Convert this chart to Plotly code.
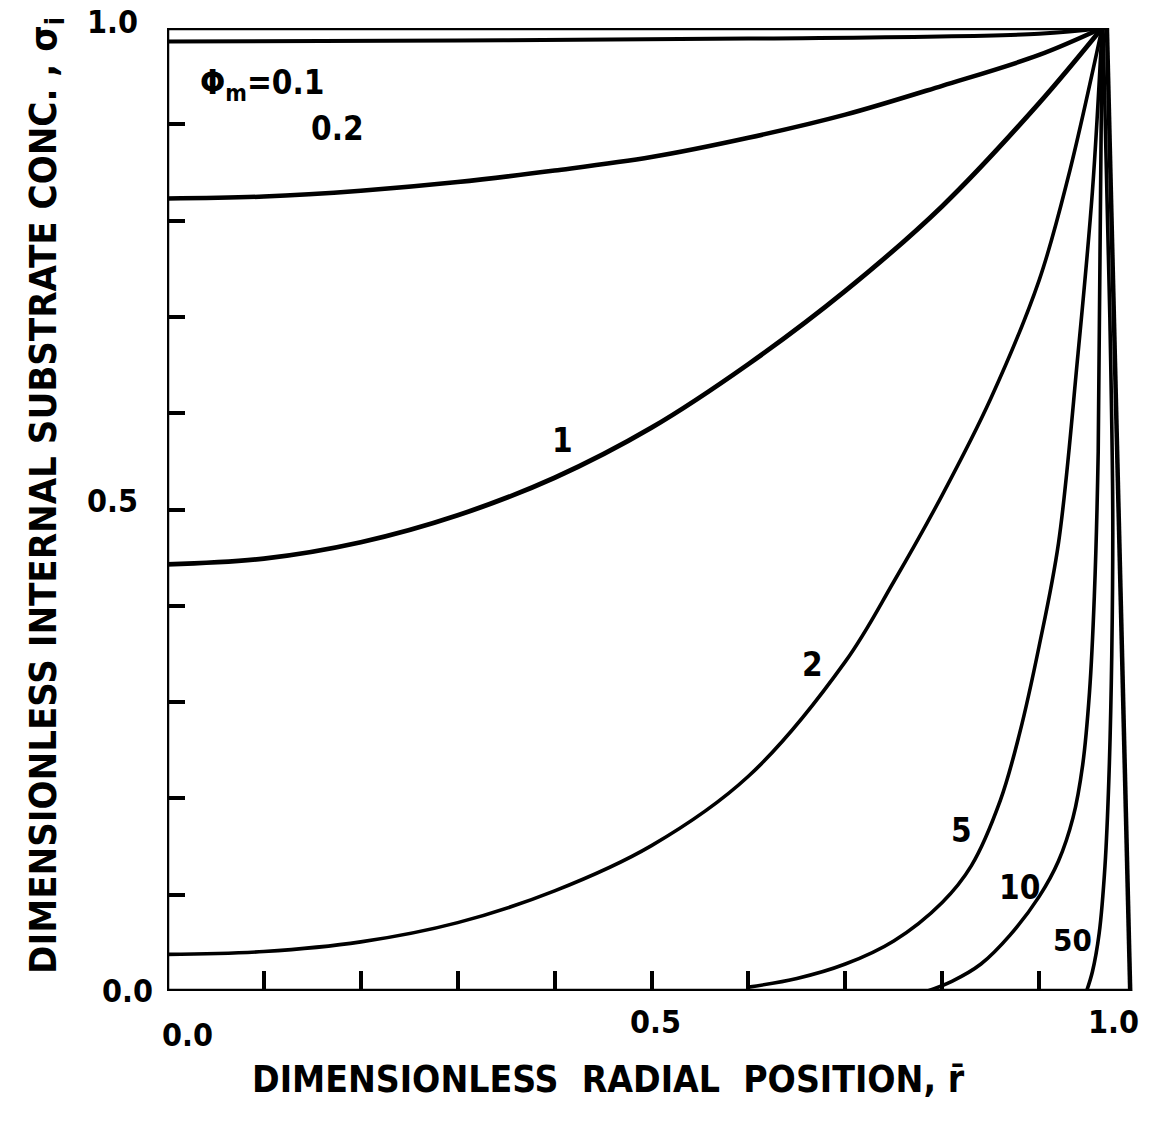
import plotly.graph_objects as go

# ---- data ----
phi_labels = ["0.1", "0.2", "1", "2", "5", "10", "50"]

r_01 = [0.0, 0.3, 0.6, 0.9, 0.965]
s_01 = [0.986, 0.987, 0.989, 0.994, 1.0]

r_02 = [0.0, 0.1, 0.2, 0.3, 0.4, 0.5, 0.6, 0.7, 0.8, 0.9, 0.965]
s_02 = [0.823, 0.825, 0.831, 0.840, 0.852, 0.866, 0.886, 0.910, 0.940, 0.972, 1.0]

r_1 = [0.0, 0.1, 0.2, 0.3, 0.4, 0.5, 0.6, 0.7, 0.8, 0.9, 0.965]
s_1 = [0.443, 0.449, 0.466, 0.494, 0.533, 0.585, 0.651, 0.727, 0.815, 0.922, 1.0]

r_2 = [0.0, 0.1, 0.2, 0.3, 0.4, 0.5, 0.6, 0.7, 0.75, 0.8, 0.85, 0.9, 0.93, 0.965]
s_2 = [0.038, 0.041, 0.051, 0.071, 0.104, 0.151, 0.223, 0.342, 0.425, 0.515, 0.615, 0.738, 0.845, 1.0]

r_5 = [0.6, 0.65, 0.70, 0.75, 0.80, 0.83, 0.86, 0.88, 0.90, 0.92, 0.94, 0.955, 0.965]
s_5 = [0.004, 0.013, 0.028, 0.052, 0.092, 0.130, 0.198, 0.268, 0.358, 0.465, 0.66, 0.83, 1.0]

r_10 = [0.785, 0.81, 0.84, 0.87, 0.90, 0.92, 0.935, 0.945, 0.952, 0.957, 0.961, 0.965]
s_10 = [0.0, 0.010, 0.028, 0.058, 0.098, 0.135, 0.18, 0.235, 0.31, 0.41, 0.56, 1.0]

r_50 = [0.949, 0.955, 0.962, 0.968, 0.972, 0.975, 0.976, 0.973, 0.969, 0.966]
s_50 = [0.0, 0.02, 0.06, 0.13, 0.22, 0.35, 0.5, 0.70, 0.87, 1.0]

minor_ticks = [0.1, 0.2, 0.3, 0.4, 0.5, 0.6, 0.7, 0.8, 0.9]
x_tick_vals = [0.0, 0.5, 1.0]
x_tick_text = ["0.0", "0.5", "1.0"]
y_tick_vals = [1.0, 0.5, 0.0]
y_tick_text = ["1.0", "0.5", "0.0"]

x_title = "DIMENSIONLESS  RADIAL  POSITION, r\u0304"
y_title = "DIMENSIONLESS INTERNAL SUBSTRATE CONC. , \u03c3<sub>i</sub>"

# ---- styling ----
FONT = "DejaVu Sans Condensed, Liberation Sans Narrow, DejaVu Sans, sans-serif"
BLACK = "#000000"

curves = [
    (r_01, s_01, 4.0),
    (r_02, s_02, 4.5),
    (r_1, s_1, 4.8),
    (r_2, s_2, 3.6),
    (r_5, s_5, 3.6),
    (r_10, s_10, 3.6),
    (r_50, s_50, 3.6),
]

fig = go.Figure()
for (rr, ss, w), lab in zip(curves, phi_labels):
    fig.add_trace(go.Scatter(
        x=rr, y=ss, mode="lines", name=lab,
        line=dict(color=BLACK, width=w, shape="spline", smoothing=1.0),
        hoverinfo="skip", showlegend=False,
    ))

# frame (hand-drawn style, slanted right edge)
frame = [((0.0, 0.0), (0.0, 1.0)),
         ((0.0, 0.0), (0.994, 0.0)),
         ((0.0, 1.0), (0.970, 1.0)),
         ((0.970, 1.0), (0.994, 0.0))]
for (x0, y0), (x1, y1) in frame:
    fig.add_shape(type="line", xref="x", yref="y", x0=x0, y0=y0, x1=x1, y1=y1,
                  line=dict(color=BLACK, width=4.5), layer="above")

# curve labels (data coordinates)
label_pos = [(0.098, 0.941), (0.176, 0.896), (0.408, 0.572), (0.666, 0.339),
             (0.820, 0.167), (0.880, 0.107), (0.934, 0.053)]
label_txt = ["\u03a6<sub>m</sub>=0.1", "0.2", "1", "2", "5", "10", "50"]
label_size = [33, 33, 33, 33, 33, 33, 31]
for (lx, ly), t, fs in zip(label_pos, label_txt, label_size):
    fig.add_annotation(x=lx, y=ly, xref="x", yref="y", text=t, showarrow=False,
                       xanchor="center", yanchor="middle",
                       font=dict(family=FONT, size=fs, color=BLACK, weight="bold"))

# tick labels placed as in the original figure
x_shifts = [(20, -44), (4, -31), (-23, -31)]
for v, t, (dx, dy) in zip(x_tick_vals, x_tick_text, x_shifts):
    fig.add_annotation(x=v, y=0, xref="x", yref="y", text=t, showarrow=False,
                       xanchor="center", yanchor="middle", xshift=dx, yshift=dy,
                       font=dict(family=FONT, size=32, color=BLACK, weight="bold"))
y_shifts = [(-55, 6), (-55, 9), (-40, 0)]
for v, t, (dx, dy) in zip(y_tick_vals, y_tick_text, y_shifts):
    fig.add_annotation(x=0, y=v, xref="x", yref="y", text=t, showarrow=False,
                       xanchor="center", yanchor="middle", xshift=dx, yshift=dy,
                       font=dict(family=FONT, size=32, color=BLACK, weight="bold"))

# axis titles
fig.add_annotation(x=0.456, y=-0.0924, xref="paper", yref="paper", text=x_title,
                   xanchor="center", yanchor="middle", showarrow=False,
                   font=dict(family=FONT, size=37, color=BLACK, weight="bold"))
fig.add_annotation(x=-0.126, y=0.515, xref="paper", yref="paper", text=y_title,
                   xanchor="center", yanchor="middle", textangle=-90, showarrow=False,
                   font=dict(family=FONT, size=38, color=BLACK, weight="bold"))

axis_common = dict(showgrid=False, zeroline=False, showline=False,
                   ticks="inside", tickvals=minor_ticks, showticklabels=False,
                   tickcolor=BLACK, tickwidth=3.5)
fig.update_xaxes(range=[0, 1.0], ticklen=20, **axis_common)
fig.update_yaxes(range=[0, 1.0], ticklen=18, **axis_common)

fig.update_layout(
    width=1171, height=1125,
    margin=dict(l=167, r=35, t=28, b=134),
    plot_bgcolor="white", paper_bgcolor="white",
    showlegend=False,
)

fig.write_html("out.html", config={"displayModeBar": False},
               post_script="document.body.style.margin='0';")
